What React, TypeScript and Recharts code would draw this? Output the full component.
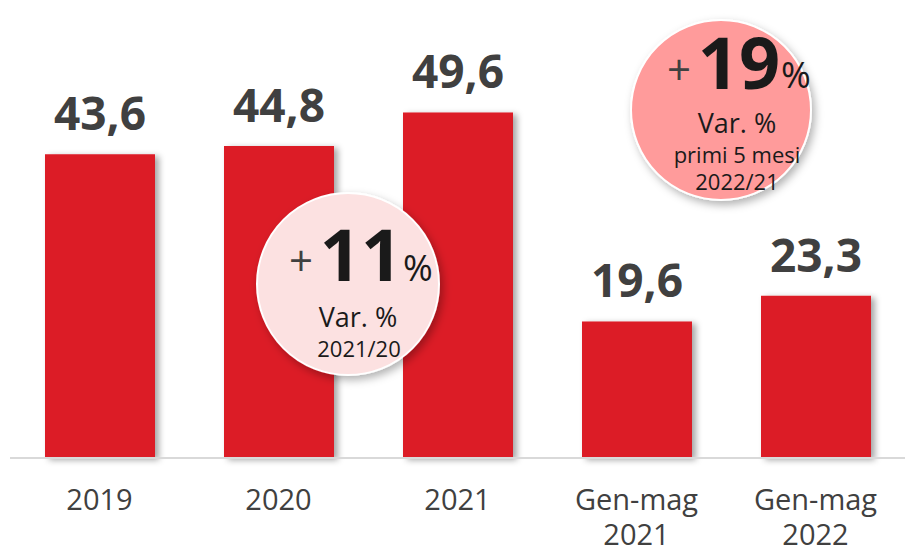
import React from "react";
import { BarChart, Bar, XAxis, YAxis, LabelList } from "recharts";

const categories = ["2019", "2020", "2021", "Gen-mag\n2021", "Gen-mag\n2022"];
const values = [43.6, 44.8, 49.6, 19.6, 23.3];
const valueLabels = ["43,6", "44,8", "49,6", "19,6", "23,3"];

const data = categories.map((c, i) => ({ cat: c, v: values[i], lbl: valueLabels[i] }));

const FONT = "'Open Sans', 'Noto Sans', sans-serif";
const BAR = "#DC1A27";
const TXT = "#404040";

const Tick = (props: any) => {
  const { x, y, payload } = props;
  const lines = String(payload.value).split("\n");
  return (
    <g>
      {lines.map((l, i) => (
        <text key={i} x={x} y={y + 44 + i * 35} textAnchor="middle" fontSize={29} fill={TXT} fontFamily={FONT}>
          {l}
        </text>
      ))}
    </g>
  );
};

const ValueLabel = (props: any) => {
  const { x, y, width, value } = props;
  return (
    <text x={x + width / 2} y={y - 24} textAnchor="middle" fontSize={46} fontWeight={700} fill={TXT} fontFamily={FONT}>
      {value}
    </text>
  );
};

const Bubbles = () => (
  <svg width={905} height={552} style={{ position: "absolute", left: 0, top: 0, pointerEvents: "none" }}>
    <defs>
      <filter id="bubShadow" x="-30%" y="-30%" width="160%" height="160%">
        <feDropShadow dx={3} dy={4} stdDeviation={4} floodColor="#000" floodOpacity={0.3} />
      </filter>
    </defs>
    <g fontFamily={FONT}>
      <circle cx={348} cy={284} r={91} fill="#FCE1E1" stroke="#fff" strokeWidth={2} filter="url(#bubShadow)" />
      <text x={301} y={276} textAnchor="middle" fontSize={42} fill={TXT}>+</text>
      <text x={361} y={281} textAnchor="middle" fontSize={72} fontWeight={700} fill="#1a1a1a">11</text>
      <text x={418} y={281} textAnchor="middle" fontSize={36} fill="#1a1a1a">%</text>
      <text x={358} y={327} textAnchor="middle" fontSize={27} fill="#1a1a1a">Var. %</text>
      <text x={359} y={357} textAnchor="middle" fontSize={22} fill="#1a1a1a">2021/20</text>

      <circle cx={721} cy={110} r={90} fill="#FF9B9B" stroke="#fff" strokeWidth={2} filter="url(#bubShadow)" />
      <text x={679} y={85} textAnchor="middle" fontSize={42} fill={TXT}>+</text>
      <text x={739} y={89} textAnchor="middle" fontSize={72} fontWeight={700} fill="#1a1a1a">19</text>
      <text x={796} y={88} textAnchor="middle" fontSize={36} fill="#1a1a1a">%</text>
      <text x={737} y={133} textAnchor="middle" fontSize={27} fill="#1a1a1a">Var. %</text>
      <text x={737} y={163} textAnchor="middle" fontSize={22} fill="#1a1a1a">primi 5 mesi</text>
      <text x={737} y={190} textAnchor="middle" fontSize={22} fill="#1a1a1a">2022/21</text>
    </g>
  </svg>
);

export default function App() {
  return (
    <div style={{ position: "absolute", left: 0, top: 0, width: 905, height: 552, background: "#fff" }}>
      <BarChart width={905} height={552} data={data} margin={{ top: 40, right: 0, bottom: 0, left: 10 }} barCategoryGap={0}>
        <defs>
          <filter id="barShadow" x="-20%" y="-20%" width="150%" height="140%">
            <feDropShadow dx={4} dy={2} stdDeviation={3} floodColor="#000" floodOpacity={0.35} />
          </filter>
        </defs>
        <XAxis
          dataKey="cat"
          height={94}
          axisLine={{ stroke: "#D9D9D9", strokeWidth: 2 }}
          tickLine={false}
          tick={<Tick />}
          interval={0}
        />
        <YAxis hide domain={[0, 60]} width={0} />
        <Bar dataKey="v" fill={BAR} barSize={110} isAnimationActive={false} filter="url(#barShadow)">
          <LabelList dataKey="lbl" content={<ValueLabel />} />
        </Bar>
      </BarChart>
      <Bubbles />
    </div>
  );
}
